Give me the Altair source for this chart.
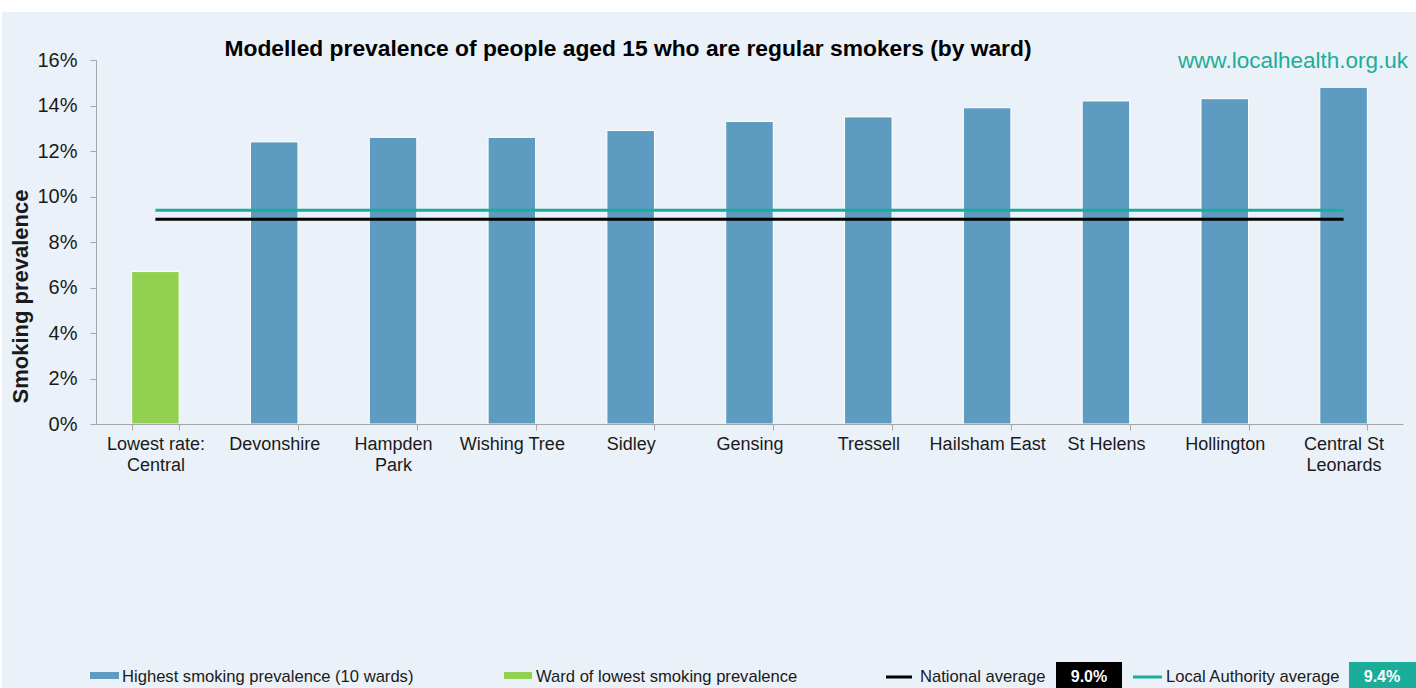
import altair as alt
import pandas as pd

# ---- data ----
wards = ["Lowest rate:\nCentral", "Devonshire", "Hampden\nPark", "Wishing Tree", "Sidley",
         "Gensing", "Tressell", "Hailsham East", "St Helens", "Hollington", "Central St\nLeonards"]
prevalence = [6.7, 12.4, 12.6, 12.6, 12.9, 13.3, 13.5, 13.9, 14.2, 14.3, 14.8]
group_names = ["Highest smoking prevalence (10 wards)", "Ward of lowest smoking prevalence"]
groups = [group_names[1]] + [group_names[0]] * 10
avg_names = ["National average", "Local Authority average"]
avg_values = [9.0, 9.4]
y_ticks = [0, 2, 4, 6, 8, 10, 12, 14, 16]
chart_title = "Modelled prevalence of people aged 15 who are regular smokers (by ward)"
site = "www.localhealth.org.uk"

# ---- styles ----
FONT = "Liberation Sans"
BG = "#EAF1F8"
BLUE = "#5D9BC1"
GREEN = "#92D050"
TEAL = "#1AAE9A"
GREY = "#A6A6A6"
TXT = "#1A1A1A"
W, H = 1307, 364

bars_df = pd.DataFrame({"ward": wards, "value": prevalence, "group": groups})
avg_df = pd.DataFrame({"name": avg_names, "value": avg_values,
                       "start": [wards[0]] * 2, "end": [wards[-1]] * 2})

xscale = alt.Scale(domain=wards, paddingInner=0.6, paddingOuter=0.3)
xaxis = alt.Axis(title=None, labelAngle=0, labelExpr="split(datum.label, '\\n')",
                 tickBand="extent", labelFontSize=18, labelLineHeight=21, labelPadding=5,
                 tickSize=6, domainColor=GREY, tickColor=GREY, labelColor=TXT,
                 labelFont=FONT, zindex=1, grid=False)
yscale = alt.Scale(domain=[0, 16], nice=False)
yaxis = alt.Axis(values=y_ticks, labelExpr="datum.value + '%'", title="Smoking prevalence",
                 titleFontSize=22, titleFont=FONT, titleFontWeight="bold", titleColor=TXT,
                 titleX=-76, titleY=236, titleAngle=270, titleAlign="center",
                 titleBaseline="middle", labelFontSize=20, labelFont=FONT, labelPadding=13,
                 tickSize=6, grid=False, domainColor=GREY, tickColor=GREY, labelColor=TXT,
                 zindex=1)


def one(text=""):
    return alt.Chart(pd.DataFrame({"t": [text]}))


background = one().mark_rect(color=BG).encode(
    x=alt.value(-94), x2=alt.value(1320), y=alt.value(-48), y2=alt.value(628))

bars = alt.Chart(bars_df).mark_bar(stroke="white", strokeWidth=1).encode(
    x=alt.X("ward:N", scale=xscale, axis=xaxis, sort=wards),
    y=alt.Y("value:Q", scale=yscale, axis=yaxis),
    color=alt.Color("group:N", scale=alt.Scale(domain=group_names, range=[BLUE, GREEN]), legend=None),
)

rules = alt.Chart(avg_df).mark_rule(strokeWidth=3).encode(
    x=alt.X("start:N", scale=xscale, axis=xaxis, sort=wards),
    x2="end:N",
    y=alt.Y("value:Q", scale=yscale, axis=yaxis),
    color=alt.Color("name:N", scale=alt.Scale(domain=avg_names, range=["#000000", TEAL]), legend=None),
)

title_txt = one(chart_title).mark_text(font=FONT, fontSize=22.8, fontWeight="bold", color="#000000",
                                       align="center", baseline="alphabetic").encode(
    text="t:N", x=alt.value(532), y=alt.value(-4))

site_txt = one(site).mark_text(font=FONT, fontSize=22.5, color=TEAL, align="right",
                               baseline="alphabetic").encode(
    text="t:N", x=alt.value(1312), y=alt.value(8))

# ---- legend ----
LY = 622  # text baseline (relative to plot origin)
legend_layers = []


def swatch(x0, x1, color):
    return one().mark_rect(color=color).encode(
        x=alt.value(x0), x2=alt.value(x1), y=alt.value(612), y2=alt.value(619))


def line(x0, x1, color):
    return one().mark_rule(color=color, strokeWidth=3).encode(
        x=alt.value(x0), x2=alt.value(x1), y=alt.value(617))


def label(x0, text, color=TXT, bold=False, align="left", size=16.6):
    return one(text).mark_text(font=FONT, fontSize=size, color=color, align=align,
                               baseline="alphabetic",
                               fontWeight="bold" if bold else "normal").encode(
        text="t:N", x=alt.value(x0), y=alt.value(LY))


def box(x0, x1, color):
    return one().mark_rect(color=color).encode(
        x=alt.value(x0), x2=alt.value(x1), y=alt.value(602), y2=alt.value(628))


legend_layers += [
    swatch(-6, 23, BLUE), label(26, group_names[0]),
    swatch(408, 436, GREEN), label(440, group_names[1]),
    line(790, 816, "#000000"), label(824, avg_names[0]),
    box(960, 1026, "#000000"), label(993, f"{avg_values[0]:.1f}%", color="white", bold=True, align="center", size=16),
    line(1037, 1066, TEAL), label(1070, avg_names[1]),
    box(1253, 1320, TEAL), label(1286, f"{avg_values[1]:.1f}%", color="white", bold=True, align="center", size=16),
]

chart = alt.layer(background, bars, rules, title_txt, site_txt, *legend_layers).resolve_scale(
    color="independent"
).properties(
    width=W, height=H,
    autosize=alt.AutoSizeParams(type="none"),
    padding={"left": 96, "top": 60, "right": 13, "bottom": 264},
    background="white",
).configure_view(strokeWidth=0)

chart.save("out.html", embed_options={"renderer": "svg", "actions": False})
